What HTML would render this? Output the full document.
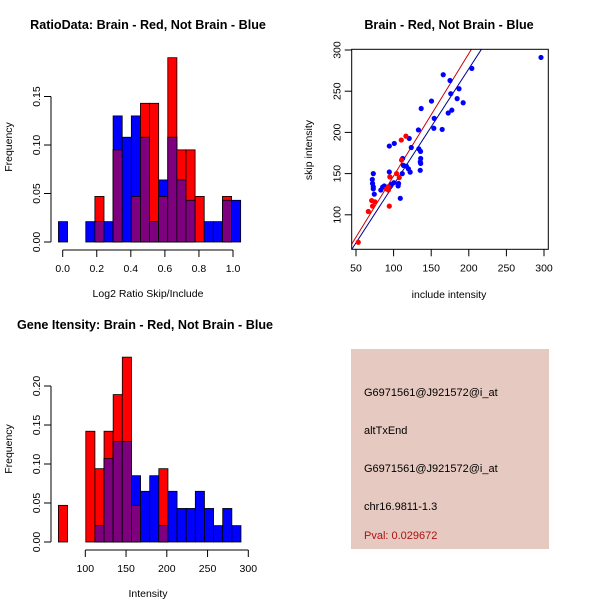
<!DOCTYPE html>
<html><head><meta charset="utf-8"><style>
body{margin:0;background:#fff}
svg{display:block;font-family:"Liberation Sans",Arial,sans-serif}
</style></head><body>
<svg id="c" width="600" height="600" viewBox="0 0 600 600" xmlns="http://www.w3.org/2000/svg">
<rect width="600" height="600" fill="#fff"/>
<g id="p1"></g>
<g id="p2"></g>
<g id="p3"></g>
<g>
<rect x="351" y="349" width="198" height="200" fill="#e6c9c0"/>
<text x="364" y="396" font-size="11" fill="#000">G6971561@J921572@i_at</text>
<text x="364" y="434" font-size="11" fill="#000">altTxEnd</text>
<text x="364" y="472" font-size="11" fill="#000">G6971561@J921572@i_at</text>
<text x="364" y="510" font-size="11" fill="#000">chr16.9811-1.3</text>
<text x="364" y="539" font-size="11" fill="#b01010">Pval: 0.029672</text>
</g>
</svg>
<script>
// ---- Ratio histogram data ----
const ratioBreakStart = -0.025;
const ratioBinWidth = 0.0535;
const ratioBlue = [0.021,0,0,0.021,0.021,0.021,0.13,0.108,0.13,0.108,0.021,0.064,0.108,0.064,0.043,0,0.021,0.021,0.043,0.043];
const ratioRed  = [0,0,0,0,0.047,0,0.095,0,0.047,0.143,0.143,0.047,0.19,0.095,0.095,0.047,0,0,0.047,0];
const ratioXTicks = [0,0.2,0.4,0.6,0.8,1.0];
const ratioXTickLabels = ["0.0","0.2","0.4","0.6","0.8","1.0"];
const ratioYTicks = [0,0.05,0.10,0.15];
const ratioYTickLabels = ["0.00","0.05","0.10","0.15"];
// ---- Gene intensity histogram data ----
const intBreakStart = 67;
const intBinWidth = 11.2;
const intBlue = [0,0,0,0,0.021,0.107,0.129,0.129,0.085,0.065,0.085,0.021,0.065,0.043,0.043,0.065,0.043,0.021,0.043,0.021];
const intRed  = [0.047,0,0,0.142,0.094,0.142,0.189,0.237,0.047,0,0,0.094,0,0,0,0,0,0,0,0];
const intXTicks = [100,150,200,250,300];
const intXTickLabels = ["100","150","200","250","300"];
const intYTicks = [0,0.05,0.10,0.15,0.20];
const intYTickLabels = ["0.00","0.05","0.10","0.15","0.20"];
// ---- Scatter data ----
const blueX = [296,204,166,175,187,176,184.5,192.5,150.4,136.7,177.4,172.6,154,153.5,164.6,133,120.8,100.9,94.3,123.5,133.6,135.8,112,136,135.5,136,113,117,119.7,122,135.4,73,94.3,111.5,106.6,106,71.7,72,73,73,87.6,85.4,83,100.4,96,97.3,74.3,108.9];
const blueY = [291,277.7,270,263,253,247,241,236,238,229,227,223.5,217,205,203.6,203,192.7,186.6,183.4,181.7,180,177,168.4,168.4,164.3,162.3,160,159,155.8,151.8,154,150,152,150,138,135,142.9,138,134,131.5,135,133.5,130,139,135,137,125,120];
const redX = [53,66.4,72,70.8,75.2,94.3,90.7,93,95,104,107.5,110.2,116.4,110.6,93];
const redY = [66.7,104,110.5,117.3,115.7,110.5,131.5,134,146,150,145,190.7,195.5,166.4,130];
const fitIntercept = [-1.3,-4.4];   // red, blue
const fitSlope = [1.485,1.408];
const scXTicks = [50,100,150,200,250,300];
const scYTicks = [100,150,200,250,300];

const NS="http://www.w3.org/2000/svg";
function mk(parent,tag,attrs,txt){const e=document.createElementNS(NS,tag);for(const k in attrs)e.setAttribute(k,attrs[k]);if(txt!==undefined)e.textContent=txt;parent.appendChild(e);return e;}
const TF=10.5;

function hist(g,o){
  const sx=v=>o.x0+(v-o.xv0)*o.xs, sy=v=>o.y0-v*o.ys;
  for(let i=0;i<o.blue.length;i++){
    const a=o.start+i*o.w,b=a+o.w;
    const bl=o.blue[i],rd=o.red[i];
    if(bl>0){const r=mk(g,'rect',{x:sx(a),y:sy(bl),width:sx(b)-sx(a),height:sy(0)-sy(bl),fill:'#0000ff',stroke:'#000','stroke-width':0.8});
      
      }
    if(rd>0){const r=mk(g,'rect',{x:sx(a),y:sy(rd),width:sx(b)-sx(a),height:sy(0)-sy(rd),fill:'#ff0000',stroke:'#000','stroke-width':0.8});
      
      }
    const m=Math.min(bl,rd);
    if(m>0){const r=mk(g,'rect',{x:sx(a),y:sy(m),width:sx(b)-sx(a),height:sy(0)-sy(m),fill:'#7f007f',stroke:'#000','stroke-width':0.8});
      
      }
  }
  const xa=mk(g,'g',{});
  
  
  const xt=o.xTicks;
  mk(xa,'line',{x1:sx(xt[0]),x2:sx(xt[xt.length-1]),y1:o.axY,y2:o.axY,stroke:'#000'});
  xt.forEach((t,i)=>{mk(xa,'line',{x1:sx(t),x2:sx(t),y1:o.axY,y2:o.axY+7,stroke:'#000'});
    const l=mk(xa,'text',{x:sx(t),y:o.axY+22,'font-size':TF,'text-anchor':'middle'},o.xLabels[i]);
    
    });
  const ya=mk(g,'g',{});
  
  
  const yt=o.yTicks;
  mk(ya,'line',{x1:o.axX,x2:o.axX,y1:sy(yt[0]),y2:sy(yt[yt.length-1]),stroke:'#000'});
  yt.forEach((t,i)=>{mk(ya,'line',{x1:o.axX-7,x2:o.axX,y1:sy(t),y2:sy(t),stroke:'#000'});
    const l=mk(ya,'text',{x:o.axX-11,y:sy(t),'font-size':TF,'text-anchor':'middle',transform:`rotate(-90 ${o.axX-11} ${sy(t)})`},o.yLabels[i]);
    
    });
  const yl=mk(g,'text',{x:12,y:o.yTitleY,'font-size':TF,'text-anchor':'middle',transform:`rotate(-90 12 ${o.yTitleY})`},'Frequency');
  
  
  const xl=mk(g,'text',{x:o.xTitleX,y:o.axY+47,'font-size':TF,'text-anchor':'middle'},o.xTitle);
  
  
  const tt=mk(g,'text',{x:o.titleX,y:o.titleY,'font-size':12.6,'font-weight':'bold','text-anchor':'middle'},o.title);
  
  
}

hist(document.getElementById('p1'),{blue:ratioBlue,red:ratioRed,start:ratioBreakStart,w:ratioBinWidth,
  x0:62.7,xv0:0,xs:170.3,y0:242,ys:970,axY:250,axX:51,
  xTicks:ratioXTicks,xLabels:ratioXTickLabels,yTicks:ratioYTicks,yLabels:ratioYTickLabels,
  yTitleY:147,xTitleX:148,xTitle:'Log2 Ratio Skip/Include',titleX:148,titleY:29,title:'RatioData: Brain - Red, Not Brain - Blue'});

hist(document.getElementById('p3'),{blue:intBlue,red:intRed,start:intBreakStart,w:intBinWidth,
  x0:85.3,xv0:100,xs:0.815,y0:542,ys:780,axY:550,axX:51,
  xTicks:intXTicks,xLabels:intXTickLabels,yTicks:intYTicks,yLabels:intYTickLabels,
  yTitleY:449,xTitleX:148,xTitle:'Intensity',titleX:145,titleY:329,title:'Gene Itensity: Brain - Red, Not Brain - Blue'});

(function(){
  const g=document.getElementById('p2');
  const L=351.7,R=548.3,T=49.3,B=249.3;
  const sx=v=>356+(v-50)*0.752, sy=v=>50+(300-v)*0.824;
  const clip=mk(g,'clipPath',{id:'sc'});mk(clip,'rect',{x:L,y:T,width:R-L,height:B-T});
  const cols=['#cc0000','#00008b'];
  fitIntercept.forEach((b,i)=>{const x1=30,x2=320;
    const l=mk(g,'line',{x1:sx(x1),y1:sy(b+fitSlope[i]*x1),x2:sx(x2),y2:sy(b+fitSlope[i]*x2),stroke:cols[i],'stroke-width':1,'clip-path':'url(#sc)'});
    
    });
  blueX.forEach((x,i)=>{const c=mk(g,'circle',{cx:sx(x),cy:sy(blueY[i]),r:2.6,fill:'#0000ff'});
    
    });
  redX.forEach((x,i)=>{const c=mk(g,'circle',{cx:sx(x),cy:sy(redY[i]),r:2.6,fill:'#ff0000'});
    
    });
  const box=mk(g,'rect',{x:L,y:T,width:R-L,height:B-T,fill:'none',stroke:'#000'});
  
  
  scXTicks.forEach(t=>{mk(g,'line',{x1:sx(t),x2:sx(t),y1:B,y2:B+7,stroke:'#000'});
    const l=mk(g,'text',{x:sx(t),y:B+22,'font-size':TF,'text-anchor':'middle'},String(t));
    
    });
  scYTicks.forEach(t=>{mk(g,'line',{x1:L-7,x2:L,y1:sy(t),y2:sy(t),stroke:'#000'});
    const l=mk(g,'text',{x:L-11,y:sy(t),'font-size':TF,'text-anchor':'middle',transform:`rotate(-90 ${L-11} ${sy(t)})`},String(t));
    
    });
  const yl=mk(g,'text',{x:312,y:150,'font-size':TF,'text-anchor':'middle',transform:'rotate(-90 312 150)'},'skip intensity');
  
  
  const xl=mk(g,'text',{x:449,y:298,'font-size':TF,'text-anchor':'middle'},'include intensity');
  
  
  const tt=mk(g,'text',{x:449,y:29,'font-size':12.6,'font-weight':'bold','text-anchor':'middle'},'Brain - Red, Not Brain - Blue');
  
  
})();
</script>
</body></html>
